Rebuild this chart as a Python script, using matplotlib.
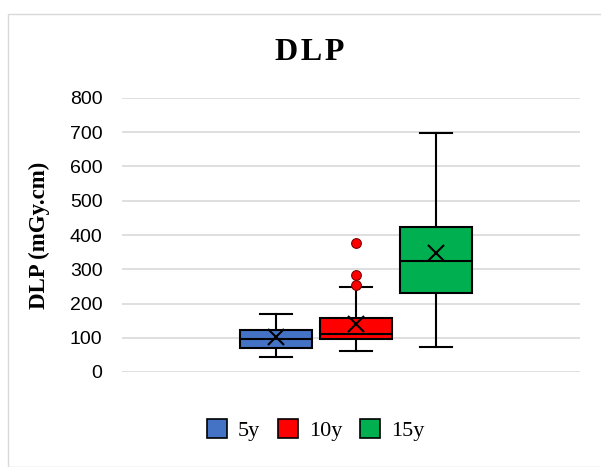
import numpy as np
import matplotlib.pyplot as plt
from matplotlib.patches import Rectangle, Patch

groups = ["5y", "10y", "15y"]
colors = ["#4472C4", "#FF0000", "#00B050"]
whislo = [44, 60, 74]
q1 = [69, 95, 230]
med = [96, 110, 325]
q3 = [122, 158, 424]
whishi = [169, 248, 697]
means = [102, 139, 347]
fliers = [[], [254, 283, 376], []]

positions = [0.336, 0.511, 0.686]
box_w = 0.157

fig = plt.figure(figsize=(6.01, 4.67), dpi=100)
fig.patches.append(Rectangle((8 / 601, 0), 1, 1 - 14 / 467, transform=fig.transFigure,
                             fill=False, edgecolor="#d9d9d9", linewidth=1.0))
ax = fig.add_axes([122 / 601, 1 - 372 / 467, 458 / 601, 274 / 467])

stats = []
for i, g in enumerate(groups):
    stats.append(dict(label=g, whislo=whislo[i], q1=q1[i], med=med[i], q3=q3[i],
                      whishi=whishi[i], mean=means[i], fliers=fliers[i]))

bp = ax.bxp(stats, positions=positions, widths=box_w, patch_artist=True,
            showmeans=True, manage_ticks=False,
            boxprops=dict(edgecolor="black", linewidth=1.5),
            medianprops=dict(color="black", linewidth=1.5),
            whiskerprops=dict(color="black", linewidth=1.5),
            capprops=dict(color="black", linewidth=1.5),
            capwidths=box_w * 0.45,
            meanprops=dict(marker="x", markeredgecolor="black", markersize=12, markeredgewidth=1.5),
            flierprops=dict(marker="o", markerfacecolor="#FF0000", markeredgecolor="#7f0000",
                            markersize=7, markeredgewidth=0.8))
for patch, c in zip(bp["boxes"], colors):
    patch.set_facecolor(c)

ax.set_xlim(0, 1)
ax.set_ylim(0, 800)
ax.set_yticks(np.arange(0, 801, 100))
ax.set_xticks([])
ax.yaxis.grid(True, color="#d9d9d9", linewidth=1.2)
ax.set_axisbelow(True)
for s in ax.spines.values():
    s.set_visible(False)
ax.tick_params(axis="y", length=0, labelsize=14, pad=14)
for lbl in ax.get_yticklabels():
    lbl.set_fontfamily("Liberation Sans")

fig.text(39 / 601, 1 - 235 / 467, "DLP (mGy.cm)", rotation=90, ha="center", va="center",
         fontfamily="Liberation Serif", fontweight="bold", fontsize=16.5)
fig.text(310 / 601, 1 - 52 / 467, "D\u200aL\u200aP", ha="center", va="center",
         fontfamily=["Liberation Serif", "DejaVu Serif"], fontweight="bold", fontsize=23)

handles = [Patch(facecolor=c, edgecolor="black", linewidth=1.2) for c in colors]
fig.legend(handles, groups, loc="center", bbox_to_anchor=(316 / 601, 1 - 430 / 467),
           ncol=3, frameon=False, prop=dict(family="Liberation Serif", size=16),
           handlelength=0.9, handleheight=0.9, handletextpad=0.5, columnspacing=0.8)

fig.savefig("out.png", dpi=100)
